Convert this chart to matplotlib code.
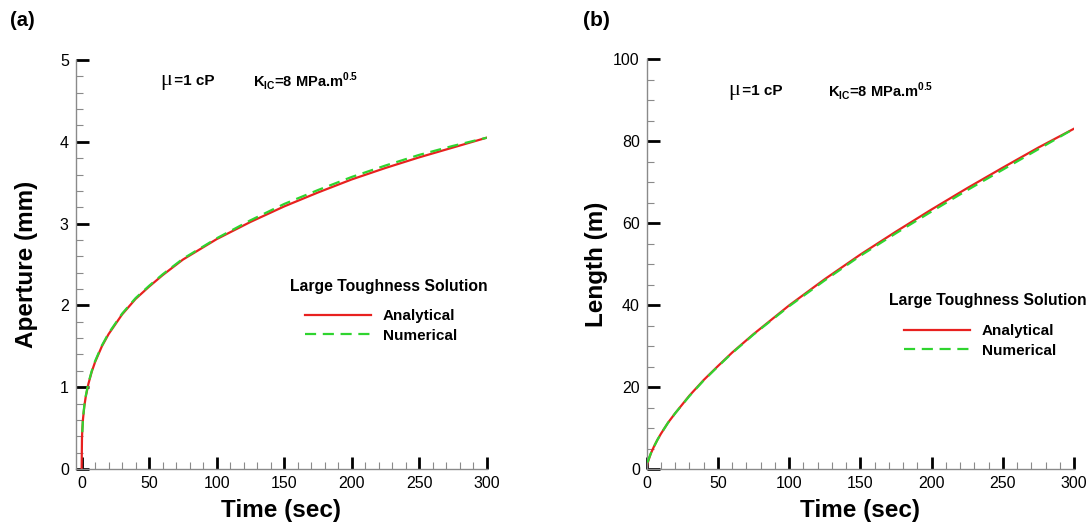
import numpy as np
import matplotlib.pyplot as plt
from matplotlib.ticker import MultipleLocator

plt.rcParams['font.family'] = ['Liberation Sans', 'DejaVu Sans']
plt.rcParams['mathtext.fontset'] = 'custom'
plt.rcParams['mathtext.rm'] = 'Liberation Sans'
plt.rcParams['mathtext.bf'] = 'Liberation Sans:bold'

# values
time_an = [0, 0.25, 0.5, 1, 2, 3, 5, 7.5, 10, 15, 20, 30, 40, 50, 60, 75,
           100, 125, 150, 175, 200, 225, 250, 275, 300]
time_num = [0.5, 1, 2, 3, 5, 7.5, 10, 15, 20, 30, 40, 50, 60, 75,
            100, 125, 150, 175, 200, 225, 250, 275, 300]

aperture_an = [0, 0.38, 0.48, 0.61, 0.77, 0.88, 1.04, 1.19, 1.31, 1.50, 1.65,
               1.89, 2.08, 2.23, 2.37, 2.56, 2.81, 3.02, 3.21, 3.38, 3.54,
               3.68, 3.81, 3.93, 4.05]
aperture_num = [0.45, 0.62, 0.78, 0.89, 1.05, 1.20, 1.32, 1.51, 1.66, 1.90,
                2.09, 2.24, 2.38, 2.57, 2.82, 3.04, 3.24, 3.41, 3.57, 3.71,
                3.84, 3.95, 4.05]

length_an = [0, 0.7, 1.2, 1.85, 2.9, 3.85, 5.4, 7.1, 8.6, 11.3, 13.6, 17.9,
             21.7, 25.1, 28.4, 32.9, 39.9, 46.3, 52.3, 57.9, 63.3, 68.5,
             73.5, 78.4, 83.0]
length_num = [1.6, 2.0, 3.0, 3.9, 5.4, 7.1, 8.6, 11.3, 13.6, 17.8, 21.6,
              25.0, 28.3, 32.8, 39.7, 46.0, 52.0, 57.5, 62.8, 68.0, 73.0,
              78.0, 83.0]

W, H = 1089, 529
fig = plt.figure(figsize=(W / 100, H / 100), dpi=100)

red = '#e8211f'
green = '#2fd42f'


def fx(px):
    return px / W


def fy(py):
    return 1 - py / H


def style_axis(ax, ymajor, yminor):
    for s in ['top', 'right']:
        ax.spines[s].set_visible(False)
    for s in ['left', 'bottom']:
        ax.spines[s].set_color('#8a8a8a')
        ax.spines[s].set_linewidth(1.0)
    ax.xaxis.set_major_locator(MultipleLocator(50))
    ax.xaxis.set_minor_locator(MultipleLocator(10))
    ax.yaxis.set_major_locator(MultipleLocator(ymajor))
    ax.yaxis.set_minor_locator(MultipleLocator(yminor))
    ax.tick_params(which='major', direction='in', length=9, width=2,
                   color='black', labelsize=11.5, pad=5)
    ax.tick_params(which='minor', direction='in', length=5, width=0.8,
                   color='#8a8a8a')


def add_panel(rect, t_an, y_an, t_num, y_num, xlim, ylim, ymaj, ymin, ylabel,
              ypad, txt_pos, leg_title_pos, leg_pos):
    ax = fig.add_axes(rect)
    ax.plot(t_an, y_an, color=red, lw=1.6, label='Analytical', zorder=2)
    ax.plot(t_num, y_num, color=green, lw=1.6, dashes=(5, 3),
            label='Numerical', zorder=3)
    ax.set_xlim(*xlim)
    ax.set_ylim(*ylim)
    style_axis(ax, ymaj, ymin)
    ax.set_xlabel('Time (sec)', fontsize=17.5, fontweight='bold', labelpad=6)
    ax.set_ylabel(ylabel, fontsize=17.5, fontweight='bold', labelpad=ypad)

    mx, kx, ty = txt_pos
    fig.text(fx(mx), fy(ty), 'μ', family=['Liberation Serif', 'DejaVu Serif'],
             fontsize=16, va='center', ha='left')
    fig.text(fx(mx + 10), fy(ty), ' =1 cP', fontsize=11, fontweight='bold',
             va='center', ha='left')
    fig.text(fx(kx), fy(ty), r'K$_{\mathbf{IC}}$=8 MPa.m$^{\mathbf{0.5}}$',
             fontsize=10.5, fontweight='bold', va='center', ha='left')

    fig.text(fx(leg_title_pos[0]), fy(leg_title_pos[1]),
             'Large Toughness Solution', fontsize=11.3, fontweight='bold',
             va='center', ha='center')
    ax.legend(loc='center left', bbox_to_anchor=(fx(leg_pos[0]), fy(leg_pos[1])),
              bbox_transform=fig.transFigure, frameon=False, borderpad=0,
              handlelength=4.35, handletextpad=0.75, labelspacing=0.35,
              prop={'weight': 'bold', 'size': 11})
    return ax


add_panel([fx(75.7), fy(469), fx(486.7) - fx(75.7), (469 - 60) / H],
          time_an, aperture_an, time_num, aperture_num,
          (-4.4, 300), (0, 5), 1, 0.2, 'Aperture (mm)', 16,
          (160, 253, 81), (389, 287), (297, 326))

add_panel([fx(646.7), fy(469), fx(1074) - fx(646.7), (469 - 59) / H],
          time_an, length_an, time_num, length_num,
          (0, 300), (0, 100), 20, 5, 'Length (m)', 4,
          (728, 828, 91), (988, 300), (896, 341))

fig.text(fx(22), fy(21), '(a)', fontsize=14.5, fontweight='bold',
         ha='center', va='center')
fig.text(fx(596), fy(20), '(b)', fontsize=15, fontweight='bold',
         ha='center', va='center')

fig.savefig('out.png', dpi=100)
